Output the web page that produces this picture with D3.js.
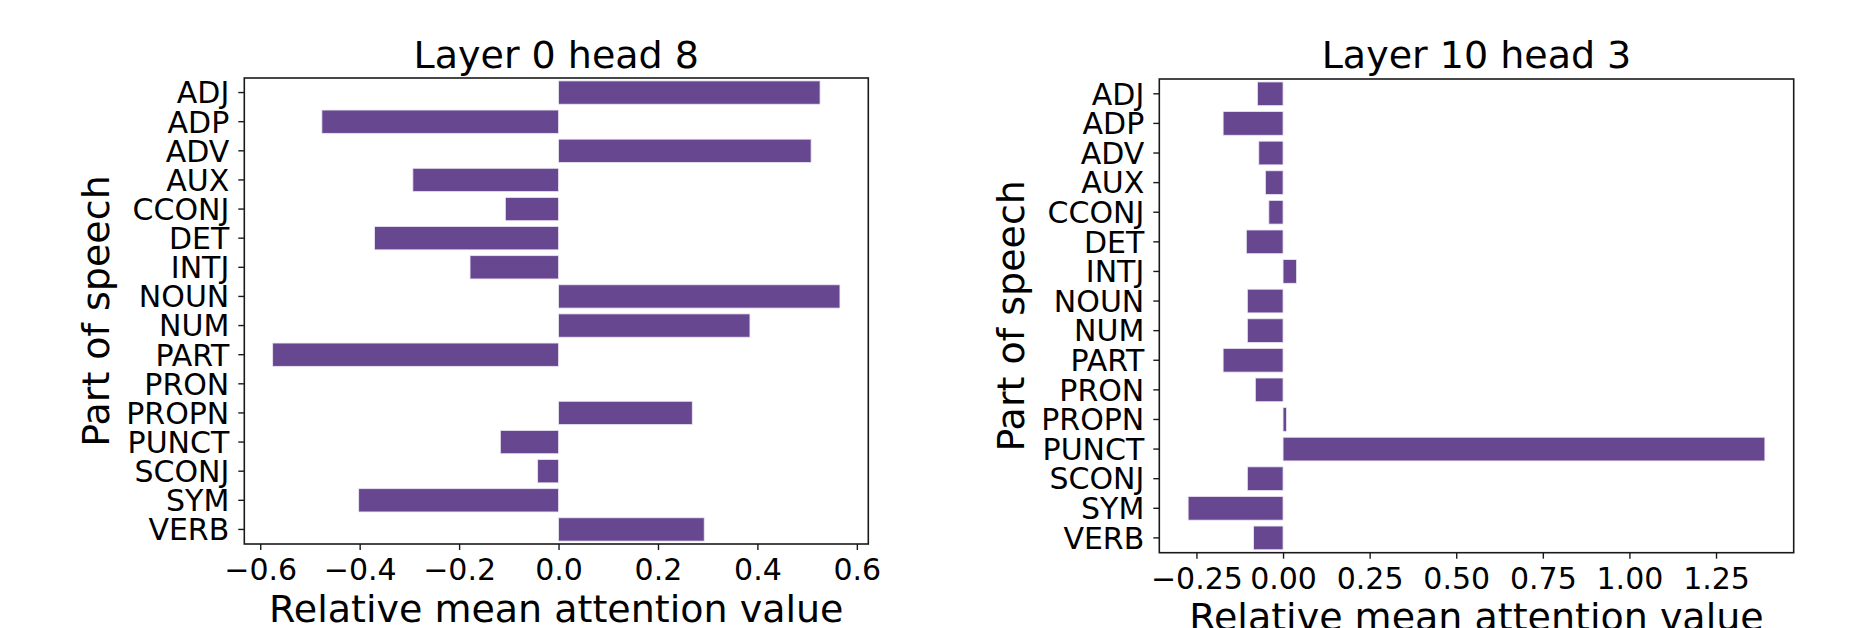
<!DOCTYPE html>
<html>
<head>
<meta charset="utf-8">
<script src="https://cdn.jsdelivr.net/npm/d3@7"></script>
<style>
  html, body { margin: 0; padding: 0; background: #ffffff; }
  svg { display: block; }
  text { font-family: "DejaVu Sans", sans-serif; fill: #000; }
</style>
</head>
<body>
<svg id="chart" width="1857" height="628"></svg>
<script>
// ---- data ----
const categories = ["ADJ","ADP","ADV","AUX","CCONJ","DET","INTJ","NOUN","NUM","PART","PRON","PROPN","PUNCT","SCONJ","SYM","VERB"];
const layer0Head8 = [0.526,-0.476,0.508,-0.293,-0.107,-0.370,-0.178,0.566,0.385,-0.575,0.0,0.269,-0.117,-0.042,-0.402,0.293];
const layer10Head3 = [-0.074,-0.173,-0.070,-0.051,-0.041,-0.106,0.039,-0.103,-0.103,-0.173,-0.080,0.010,1.391,-0.103,-0.274,-0.085];
const ticksLeft = [-0.6,-0.4,-0.2,0.0,0.2,0.4,0.6];
const ticksRight = [-0.25,0.0,0.25,0.5,0.75,1.0,1.25];
const titles = ["Layer 0 head 8","Layer 10 head 3"];
const xLabel = "Relative mean attention value";
const yLabel = "Part of speech";

// ---- layout ----
const panels = [
  {values: layer0Head8, ticks: ticksLeft, fmt: d3.format(".1f"), title: titles[0],
   left: 244.3, right: 868.3, top: 78, bottom: 544},
  {values: layer10Head3, ticks: ticksRight, fmt: d3.format(".2f"), title: titles[1],
   left: 1159.3, right: 1793.7, top: 79, bottom: 552.7}
];
const barColor = "#684791";
const spineColor = "#1a1a1a";
const svg = d3.select("#chart");

panels.forEach(p => {
  const lo = Math.min(0, d3.min(p.values)), hi = Math.max(0, d3.max(p.values));
  const m = (hi - lo) * 0.05;
  const x = d3.scaleLinear().domain([lo - m, hi + m]).range([p.left, p.right]);
  const y = d3.scaleBand().domain(categories).range([p.top, p.bottom])
              .paddingInner(0.2).paddingOuter(0.1);
  const g = svg.append("g");

  // bars
  g.selectAll("rect.bar").data(categories).join("rect")
    .attr("class","bar")
    .attr("x", (c,i) => x(Math.min(0, p.values[i])))
    .attr("width", (c,i) => Math.abs(x(p.values[i]) - x(0)))
    .attr("y", c => y(c))
    .attr("height", y.bandwidth())
    .attr("fill", barColor)
    .attr("stroke", "#ece6f3")
    .attr("stroke-width", 0.8);

  // x axis
  const xAxis = d3.axisBottom(x).tickValues(p.ticks).tickFormat(p.fmt).tickSize(6).tickPadding(0);
  const gx = g.append("g").attr("transform", `translate(0,${p.bottom})`).call(xAxis);
  gx.select(".domain").remove();
  gx.selectAll(".tick line").attr("stroke", spineColor).attr("stroke-width", 1.4);
  gx.selectAll(".tick text").attr("font-size", 30).attr("y", 36).attr("dy", 0)
    .style("font-family", "'DejaVu Sans', sans-serif").attr("fill", "#000");

  // y axis
  const yAxis = d3.axisLeft(y).tickSize(6).tickPadding(9);
  const gy = g.append("g").attr("transform", `translate(${p.left},0)`).call(yAxis);
  gy.select(".domain").remove();
  gy.selectAll(".tick line").attr("stroke", spineColor).attr("stroke-width", 1.4);
  gy.selectAll(".tick text").attr("font-size", 30).attr("dy", "0.36em")
    .style("font-family", "'DejaVu Sans', sans-serif").attr("fill", "#000");

  // frame
  g.append("rect")
    .attr("x", p.left).attr("y", p.top)
    .attr("width", p.right - p.left).attr("height", p.bottom - p.top)
    .attr("fill", "none").attr("stroke", spineColor).attr("stroke-width", 1.6);

  // title
  g.append("text")
    .attr("x", (p.left + p.right) / 2).attr("y", 67.7)
    .attr("text-anchor", "middle").attr("font-size", 38)
    .text(p.title);

  // x label
  g.append("text")
    .attr("x", (p.left + p.right) / 2).attr("y", p.bottom + 77.7)
    .attr("text-anchor", "middle").attr("font-size", 38)
    .text(xLabel);

  // y label
  const yx = p.left - 135, yy = (p.top + p.bottom) / 2;
  g.append("text")
    .attr("transform", `translate(${yx},${yy}) rotate(-90)`)
    .attr("text-anchor", "middle").attr("font-size", 38)
    .text(yLabel);
});
</script>
</body>
</html>
